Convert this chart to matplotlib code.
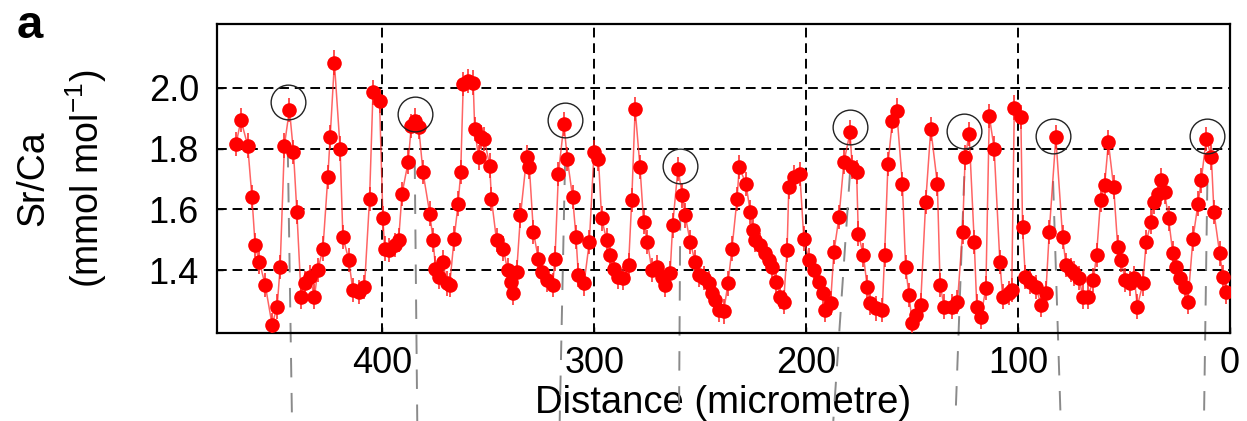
import matplotlib
matplotlib.use("Agg")
import matplotlib.pyplot as plt
import numpy as np

plt.rcParams['font.family'] = ['Liberation Sans', 'DejaVu Sans']
plt.rcParams['mathtext.fontset'] = 'custom'
plt.rcParams['mathtext.rm'] = 'Liberation Sans'
plt.rcParams['mathtext.default'] = 'regular'

# ---- data ----
distance = [469.0, 466.7, 463.5, 461.5, 460.0, 458.0, 455.2, 452.0, 449.6, 448.2,
            446.2, 443.8, 441.9, 440.3, 438.3, 436.7, 434.3, 432.0, 430.4, 428.0,
            425.7, 424.6, 422.6, 419.9, 418.6, 415.8, 413.9, 410.8, 408.4, 406.0,
            404.4, 401.3, 399.7, 398.9, 396.6, 394.2, 392.3, 390.7, 387.8, 386.3,
            384.7, 382.8, 380.8, 377.6, 376.0, 374.9, 373.3, 371.3, 369.7, 368.2,
            366.1, 364.2, 363.0, 361.8, 359.5, 357.1, 356.4, 354.6, 353.5, 351.9,
            349.3, 348.5, 346.1, 342.9, 340.9, 339.4, 338.2, 336.6, 334.8, 331.9,
            330.6, 328.7, 326.4, 324.8, 322.5, 319.6, 318.5, 316.9, 314.3, 312.7,
            310.2, 308.6, 307.5, 304.8, 302.3, 300.1, 298.0, 296.5, 294.1, 292.5,
            290.9, 288.6, 286.2, 283.8, 282.3, 280.7, 278.4, 276.7, 274.9, 272.8,
            270.4, 268.1, 266.5, 264.2, 263.0, 260.5, 258.4, 257.1, 254.7, 252.4,
            250.8, 248.4, 246.0, 244.4, 242.9, 241.3, 238.9, 236.9, 235.0, 232.6,
            231.6, 228.4, 226.4, 225.2, 224.0, 221.6, 219.3, 217.7, 216.1, 214.2,
            212.2, 210.6, 209.0, 208.2, 205.9, 203.0, 201.1, 198.7, 196.4, 194.0,
            192.0, 190.9, 188.5, 186.9, 184.5, 182.2, 179.3, 178.3, 176.2, 175.4,
            173.0, 171.2, 169.9, 167.2, 164.1, 163.0, 161.4, 159.3, 157.3, 154.6,
            153.1, 151.5, 149.9, 148.3, 146.0, 143.6, 141.2, 138.1, 136.8, 134.9,
            131.0, 128.6, 126.2, 125.0, 123.1, 120.7, 119.5, 117.6, 115.2, 113.6,
            111.3, 108.6, 107.3, 104.2, 103.0, 101.8, 98.7, 97.9, 96.6, 94.4,
            91.6, 89.2, 86.9, 85.3, 82.2, 79.0, 77.4, 75.1, 73.5, 71.1,
            69.6, 67.1, 64.5, 63.0, 61.1, 59.2, 57.4, 54.9, 53.0, 51.4,
            49.5, 47.4, 45.1, 43.8, 41.1, 39.6, 37.2, 36.0, 34.0, 32.5,
            30.9, 29.0, 27.0, 25.4, 23.8, 21.4, 19.9, 17.5, 15.1, 13.6,
            11.2, 8.8, 7.6, 4.9, 3.3, 1.7]
sr_ca = [1.815, 1.894, 1.810, 1.640, 1.482, 1.427, 1.350, 1.220, 1.280, 1.410,
         1.810, 1.928, 1.788, 1.591, 1.313, 1.356, 1.378, 1.313, 1.400, 1.471,
         1.706, 1.837, 2.083, 1.800, 1.510, 1.433, 1.334, 1.329, 1.345, 1.635,
         1.985, 1.957, 1.570, 1.471, 1.466, 1.482, 1.498, 1.651, 1.755, 1.875,
         1.892, 1.870, 1.722, 1.586, 1.498, 1.405, 1.378, 1.427, 1.356, 1.351,
         1.504, 1.619, 1.722, 2.012, 2.023, 2.017, 1.865, 1.771, 1.837, 1.832,
         1.744, 1.635, 1.498, 1.471, 1.400, 1.360, 1.324, 1.394, 1.580, 1.771,
         1.739, 1.526, 1.438, 1.394, 1.367, 1.351, 1.438, 1.717, 1.881, 1.766,
         1.640, 1.509, 1.384, 1.356, 1.493, 1.788, 1.766, 1.570, 1.498, 1.449,
         1.405, 1.378, 1.373, 1.416, 1.630, 1.930, 1.739, 1.558, 1.493, 1.400,
         1.410, 1.378, 1.351, 1.389, 1.547, 1.733, 1.646, 1.580, 1.493, 1.427,
         1.384, 1.373, 1.356, 1.324, 1.302, 1.269, 1.264, 1.356, 1.471, 1.635,
         1.739, 1.684, 1.591, 1.531, 1.498, 1.482, 1.455, 1.433, 1.411, 1.362,
         1.313, 1.296, 1.466, 1.673, 1.706, 1.717, 1.504, 1.433, 1.400, 1.362,
         1.324, 1.269, 1.291, 1.460, 1.575, 1.755, 1.853, 1.739, 1.722, 1.520,
         1.449, 1.345, 1.291, 1.274, 1.269, 1.449, 1.750, 1.892, 1.925, 1.684,
         1.411, 1.318, 1.225, 1.252, 1.285, 1.624, 1.865, 1.684, 1.351, 1.280,
         1.280, 1.296, 1.526, 1.771, 1.848, 1.493, 1.280, 1.247, 1.340, 1.908,
         1.800, 1.427, 1.313, 1.324, 1.334, 1.935, 1.903, 1.542, 1.378, 1.362,
         1.345, 1.285, 1.324, 1.526, 1.837, 1.509, 1.416, 1.400, 1.389, 1.373,
         1.313, 1.313, 1.367, 1.449, 1.630, 1.679, 1.820, 1.673, 1.476, 1.433,
         1.367, 1.356, 1.373, 1.280, 1.356, 1.493, 1.558, 1.624, 1.651, 1.695,
         1.657, 1.570, 1.455, 1.411, 1.373, 1.345, 1.296, 1.504, 1.619, 1.695,
         1.832, 1.771, 1.591, 1.455, 1.378, 1.329]
sr_ca_err = 0.04

# circled annual peaks
peak_distance = [444.6, 384.7, 313.8, 259.4, 179.3, 125.4, 83.5, 10.7]
peak_sr_ca = [1.952, 1.914, 1.894, 1.744, 1.872, 1.859, 1.843, 1.843]
# where the guide lines reach the bottom of the figure
guide_bottom_distance = [442.6, 383.5, 316.3, 260.0, 187.2, 129.6, 79.9, 12.3]

x_ticks = [400, 300, 200, 100, 0]
y_ticks = [1.4, 1.6, 1.8, 2.0]

# ---- figure ----
fig = plt.figure(figsize=(12.47, 4.21), dpi=100)
ax = fig.add_axes([0.174, 0.209, 0.8124, 0.734])
ax.set_xlim(478, 0)
ax.set_ylim(1.193, 2.21)

ax.set_xticks(x_ticks)
ax.set_yticks(y_ticks)
ax.set_xticklabels([str(t) for t in x_ticks])
ax.set_yticklabels([f"{t:.1f}" for t in y_ticks])
ax.tick_params(direction='in', length=4, width=1, labelsize=26)
ax.tick_params(axis='y', pad=13)
ax.tick_params(axis='x', pad=9)
ax.grid(True, color='black', linestyle=(0, (5, 3)), linewidth=1.4)
ax.set_axisbelow(True)
for s in ax.spines.values():
    s.set_linewidth(1.6)

# guide lines through circled peaks (extend below the axes)
ylo, yhi = ax.get_ylim()
y_bottom_fig = ylo - (0.209 / 0.734) * (yhi - ylo)
for xt, yt, xb in zip(peak_distance, peak_sr_ca, guide_bottom_distance):
    ax.plot([xt, xb], [yt - 0.15, y_bottom_fig], color='#8a8a8a', lw=1.4,
            linestyle=(0, (10, 8)), clip_on=False, zorder=1)

ax.plot(distance, sr_ca, color='#ff3030', lw=1.1, alpha=0.75, zorder=2)
ax.errorbar(distance, sr_ca, yerr=sr_ca_err, fmt='o', color='#ff0000',
            ecolor='#ff2020', elinewidth=1.1, capsize=4, capthick=1.1,
            markersize=10.5, markeredgewidth=0, zorder=3)

ax.plot(peak_distance, peak_sr_ca, linestyle='none', marker='o', markersize=25,
        markerfacecolor='none', markeredgecolor='#222222', markeredgewidth=1.0, zorder=4)

ax.set_xlabel('Distance (micrometre)', fontsize=27.5, labelpad=3)

fig.text(0.027, 0.576, 'Sr/Ca', rotation=90, fontsize=27, ha='center', va='center')
fig.text(0.069, 0.576, '(mmol mol$^{-1}$)', rotation=90, fontsize=27, ha='center', va='center')
fig.text(0.013, 0.99, 'a', fontsize=34, fontweight='bold', ha='left', va='top')

fig.savefig('out.png', dpi=100)
